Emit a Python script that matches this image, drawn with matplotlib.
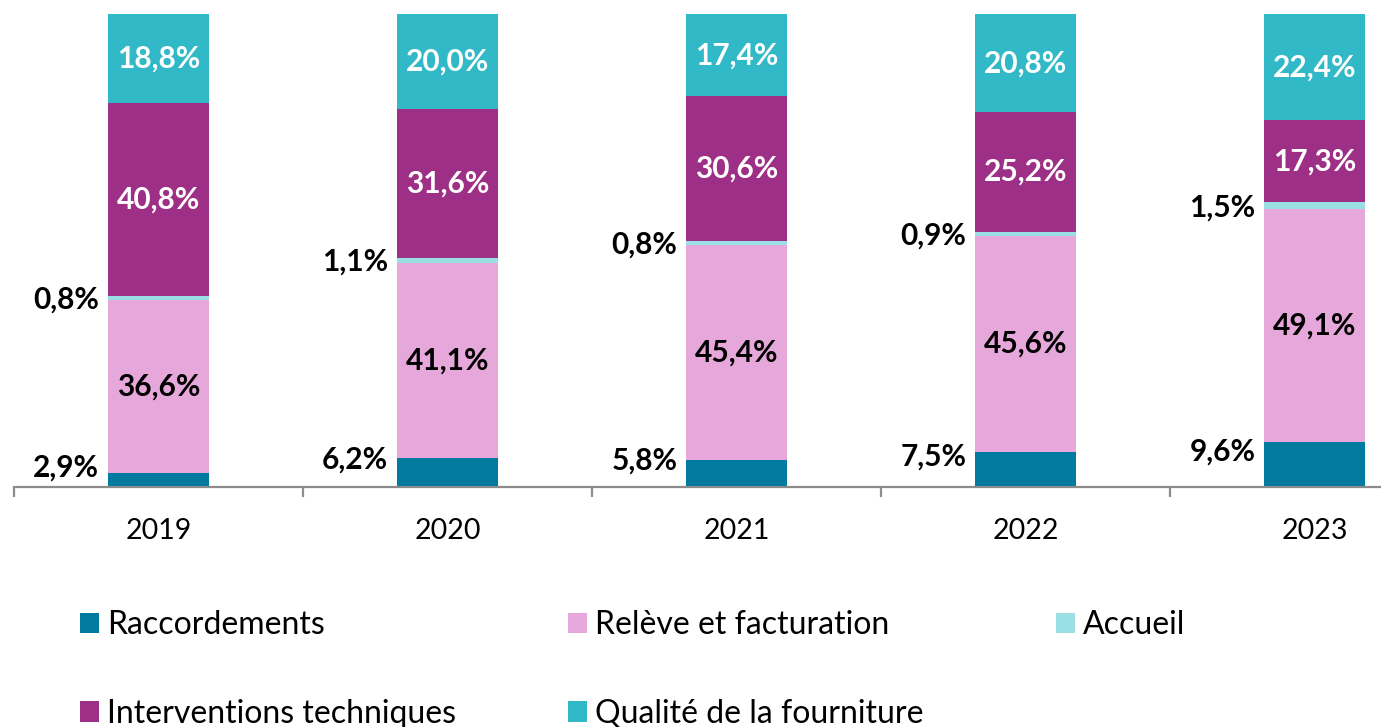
import matplotlib
matplotlib.use("Agg")
import matplotlib.pyplot as plt
import numpy as np

plt.rcParams['font.family'] = ['Lato', 'DejaVu Sans']

years = ["2019", "2020", "2021", "2022", "2023"]
series = ["Raccordements", "Relève et facturation", "Accueil",
          "Interventions techniques", "Qualité de la fourniture"]
raccordements = [2.9, 6.2, 5.8, 7.5, 9.6]
releve = [36.6, 41.1, 45.4, 45.6, 49.1]
accueil = [0.8, 1.1, 0.8, 0.9, 1.5]
interventions = [40.8, 31.6, 30.6, 25.2, 17.3]
qualite = [18.8, 20.0, 17.4, 20.8, 22.4]

values = [raccordements, releve, accueil, interventions, qualite]
colors = ["#007A9E", "#E6A8DA", "#99DFE4", "#9E2F87", "#31B9C7"]
label_colors = ["black", "black", "black", "white", "white"]
inside = [False, True, False, True, True]

W, H = 1381, 727
fig = plt.figure(figsize=(W / 100, H / 100), dpi=100)
ax = fig.add_axes([14 / W, 240 / H, 1445 / W, 473 / H])

x = np.arange(len(years))
bar_w = 0.35
bottom = np.zeros(len(years))
handles = []
for vals, col, lc, ins, name in zip(values, colors, label_colors, inside, series):
    vals = np.array(vals)
    h = ax.bar(x, vals, bar_w, bottom=bottom, color=col, label=name, linewidth=0)
    handles.append(h)
    for xi, b, v in zip(x, bottom, vals):
        txt = f"{v:.1f}%".replace(".", ",")
        if ins:
            ax.text(xi, b + v / 2, txt, ha="center", va="center",
                    fontsize=21.5, fontweight="bold", color=lc)
        else:
            off = 2.6 if name == "Raccordements" else -0.3
            ax.text(xi - bar_w / 2 - 0.03, b + v / 2 + off, txt, ha="right",
                    va="center", fontsize=21.5, fontweight="bold", color=lc)
    bottom += vals

ax.set_xlim(-0.5, len(years) - 0.5)
ax.set_ylim(0, 100)
ax.set_yticks([])
for s in ["top", "right", "left"]:
    ax.spines[s].set_visible(False)
ax.spines["bottom"].set_color("#8C8C8C")
ax.spines["bottom"].set_linewidth(1.6)
ax.set_xticks(x)
ax.set_xticklabels(years, fontsize=20.5)
ax.tick_params(axis="x", which="major", length=0, pad=22)
ax.set_xticks(np.arange(-0.5, len(years), 1), minor=True)
ax.tick_params(axis="x", which="minor", length=7, width=1.6, color="#8C8C8C",
               direction="out")

# Legend laid out in three columns, two rows
cols = [[0, 3], [1, 4], [2]]
col_x = [80 / W, 568 / W, 1056 / W]
for cx, idx in zip(col_x, cols):
    fig.legend([handles[i] for i in idx], [series[i] for i in idx],
               loc="upper left", bbox_to_anchor=(cx, 1 - 610 / H),
               frameon=False, fontsize=23, handlelength=0.6,
               handleheight=0.6, handletextpad=0.25, labelspacing=1.84,
               borderaxespad=0, borderpad=0)

fig.savefig("out.png", dpi=100)
